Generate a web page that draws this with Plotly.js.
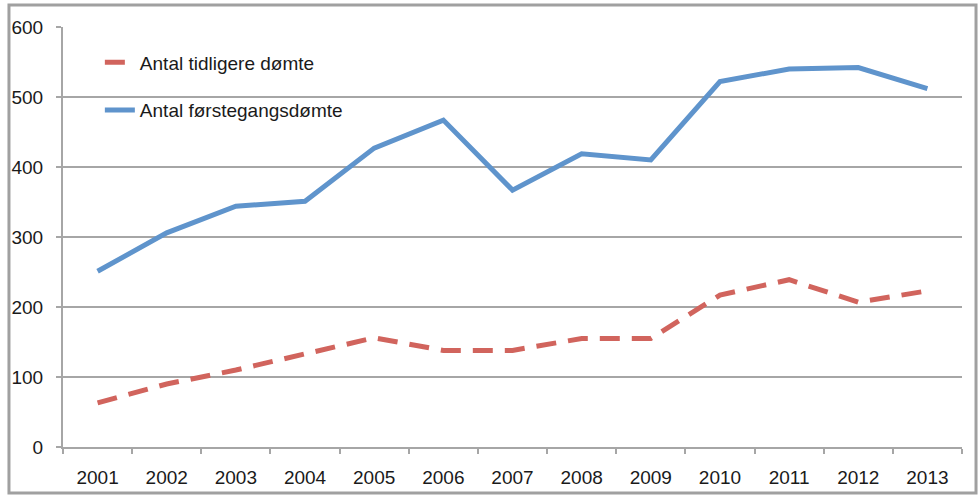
<!DOCTYPE html>
<html><head><meta charset="utf-8">
<script src="https://cdn.plot.ly/plotly-3.0.1.min.js"></script>
<style>html,body{margin:0;padding:0;background:#fff}#c{width:979px;height:495px}</style>
</head><body><div id="c"></div>
<script>
const years = ['2001','2002','2003','2004','2005','2006','2007','2008','2009','2010','2011','2012','2013'];
const tidligere = [63, 90, 110, 133, 156, 138, 138, 155, 155, 217, 239, 207, 223];
const forstegangs = [251, 306, 344, 351, 427, 467, 367, 419, 410, 522, 540, 542, 512];
const seriesNames = ['Antal tidligere dømte', 'Antal førstegangsdømte'];
const yTicks = [0, 100, 200, 300, 400, 500, 600];

const font = "'Liberation Sans', Arial, sans-serif";
const grid = '#a6a6a6';

const traces = [
  {x: years, y: tidligere, name: seriesNames[0], type: 'scatter', mode: 'lines', legendgroup: 'a',
   line: {color: '#d1645d', width: 5, dash: '20px,12px'}},
  {x: years, y: forstegangs, name: seriesNames[1], type: 'scatter', mode: 'lines', legendgroup: 'b',
   line: {color: '#5f94cc', width: 5}}
];

const layout = {
  width: 979, height: 495,
  margin: {l: 63, r: 17, t: 27, b: 48},
  paper_bgcolor: '#fff', plot_bgcolor: '#fff',
  font: {family: font, size: 19, color: '#1a1a1a'},
  showlegend: true,
  legend: {x: 0.041, y: 0.961, xanchor: 'left', yanchor: 'top', bgcolor: 'rgba(0,0,0,0)',
           font: {family: font, size: 19, color: '#1a1a1a'}, tracegroupgap: 20, traceorder: 'grouped'},
  xaxis: {type: 'category', range: [-0.5, 12.5], showgrid: false, showline: true, linecolor: grid, linewidth: 2,
          ticks: 'outside', ticklen: 5, tickcolor: grid, tickwidth: 2, tickson: 'boundaries',
          ticklabelstandoff: 12, fixedrange: true, zeroline: false},
  yaxis: {range: [0, 600], tickvals: yTicks, showgrid: true, gridcolor: grid, gridwidth: 2,
          showline: true, linecolor: grid, linewidth: 2, ticks: 'outside', ticklen: 5, tickcolor: grid, tickwidth: 2,
          ticklabelstandoff: 9, zeroline: false, fixedrange: true},
  shapes: [{type: 'rect', xref: 'paper', yref: 'paper', x0: -0.0601, x1: 1.0156, y0: -0.1095, y1: 1.0524,
            line: {color: '#a0a0a0', width: 3}, fillcolor: 'rgba(0,0,0,0)'}]
};
Plotly.newPlot('c', traces, layout, {displayModeBar: false, staticPlot: true});
</script></body></html>
